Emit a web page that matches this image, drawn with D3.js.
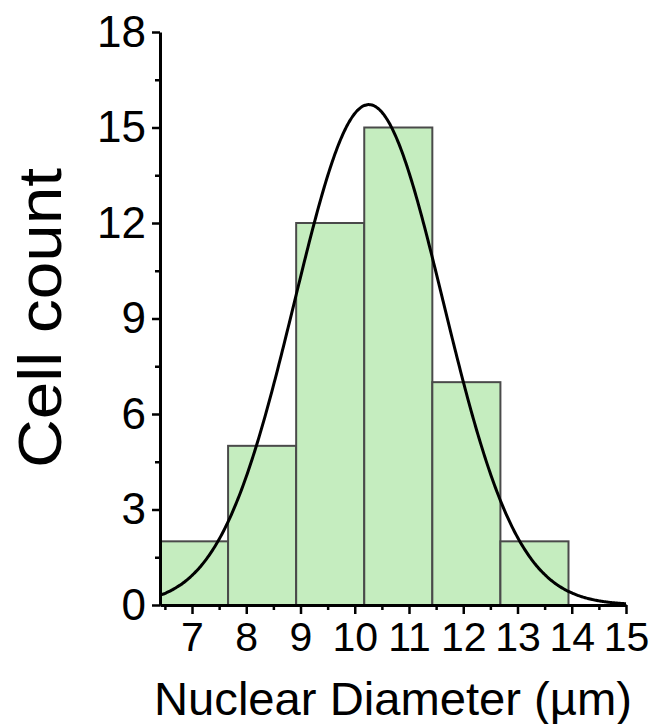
<!DOCTYPE html>
<html>
<head>
<meta charset="utf-8">
<script src="https://cdn.jsdelivr.net/npm/d3@7"></script>
<style>
  html, body { margin: 0; padding: 0; background: #fff; }
  svg { display: block; }
  text { font-family: "Liberation Sans", Arial, sans-serif; fill: #000; }
</style>
</head>
<body>
<svg id="chart" width="653" height="724"></svg>
<script>
// ---- data ----
const binEdges = [6.41, 7.665, 8.92, 10.175, 11.43, 12.685, 13.94];
const counts = [2, 5, 12, 15, 7, 2];
const xTicks = [7, 8, 9, 10, 11, 12, 13, 14, 15];
const xMinorTicks = [6.5, 7.5, 8.5, 9.5, 10.5, 11.5, 12.5, 13.5, 14.5];
const yTicks = [0, 3, 6, 9, 12, 15, 18];
const yMinorTicks = [1.5, 4.5, 7.5, 10.5, 13.5, 16.5];
// Gaussian fit curve parameters (mean, sd, peak height)
const fitMean = 10.26;
const fitSd = 1.37;
const fitPeak = 15.72;
const xLabel = "Nuclear Diameter (µm)";
const yLabel = "Cell count";

// ---- layout ----
const svg = d3.select("#chart");
const x = d3.scaleLinear().domain([6.41, 15]).range([160, 626]);
const y = d3.scaleLinear().domain([0, 18]).range([605, 32]);

// bars
const bins = counts.map((c, i) => ({ x0: binEdges[i], x1: binEdges[i + 1], c }));
svg.append("g").selectAll("rect").data(bins).join("rect")
  .attr("x", d => x(d.x0))
  .attr("y", d => y(d.c))
  .attr("width", d => x(d.x1) - x(d.x0))
  .attr("height", d => y(0) - y(d.c))
  .attr("fill", "#c5edbf")
  .attr("stroke", "#4a4a4a")
  .attr("stroke-width", 2);

// fit curve
const xs = d3.range(0, 401).map(i => 6.41 + (15 - 6.41) * i / 400);
const curve = xs.map(v => [v, fitPeak * Math.exp(-0.5 * Math.pow((v - fitMean) / fitSd, 2))]);
svg.append("path")
  .datum(curve)
  .attr("fill", "none")
  .attr("stroke", "#000")
  .attr("stroke-width", 3)
  .attr("d", d3.line().x(d => x(d[0])).y(d => y(d[1])).curve(d3.curveBasis));

// x axis
const gx = svg.append("g").attr("transform", `translate(0,${y(0)})`);
gx.call(d3.axisBottom(x).tickValues(xMinorTicks).tickSize(5).tickFormat(""))
  .call(g => g.select(".domain").remove())
  .call(g => g.selectAll("line").attr("stroke", "#000").attr("stroke-width", 2.5));
const gx2 = svg.append("g").attr("transform", `translate(0,${y(0)})`);
gx2.call(d3.axisBottom(x).tickValues(xTicks).tickSize(9).tickSizeOuter(0).tickPadding(8).tickFormat(d3.format("d")))
  .call(g => g.select(".domain").attr("stroke", "#000").attr("stroke-width", 3))
  .call(g => g.selectAll("line").attr("stroke", "#000").attr("stroke-width", 2.5))
  .call(g => g.selectAll("text").attr("font-size", 41).attr("font-family", "Liberation Sans, Arial, sans-serif").attr("fill", "#000"));

// y axis
const gy = svg.append("g").attr("transform", `translate(${x(6.41)},0)`);
gy.call(d3.axisLeft(y).tickValues(yMinorTicks).tickSize(5).tickFormat(""))
  .call(g => g.select(".domain").remove())
  .call(g => g.selectAll("line").attr("stroke", "#000").attr("stroke-width", 2.5));
const gy2 = svg.append("g").attr("transform", `translate(${x(6.41)},0)`);
gy2.call(d3.axisLeft(y).tickValues(yTicks).tickSize(8).tickSizeOuter(0).tickPadding(6).tickFormat(d3.format("d")))
  .call(g => g.select(".domain").attr("stroke", "#000").attr("stroke-width", 3))
  .call(g => g.selectAll("line").attr("stroke", "#000").attr("stroke-width", 2.5))
  .call(g => g.selectAll("text").attr("font-size", 44).attr("font-family", "Liberation Sans, Arial, sans-serif").attr("fill", "#000"));

// axis titles
svg.append("text")
  .attr("x", 393).attr("y", 715)
  .attr("text-anchor", "middle")
  .attr("font-size", 46)
  .attr("textLength", 478)
  .attr("lengthAdjust", "spacingAndGlyphs")
  .text(xLabel);
svg.append("text")
  .attr("transform", "translate(61,318) rotate(-90)")
  .attr("text-anchor", "middle")
  .attr("font-size", 62)
  .attr("textLength", 300)
  .attr("lengthAdjust", "spacingAndGlyphs")
  .text(yLabel);
</script>
</body>
</html>
